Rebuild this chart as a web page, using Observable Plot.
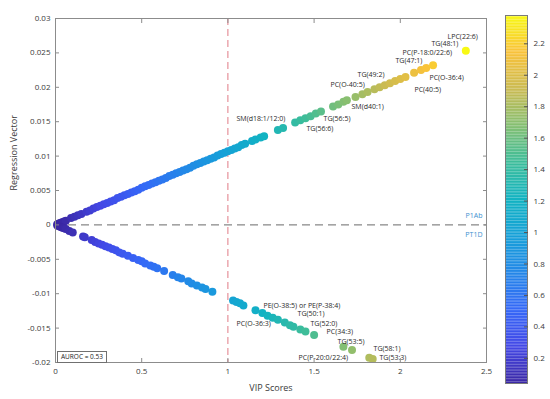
<!DOCTYPE html>
<html><head><meta charset="utf-8">
<script src="https://cdn.jsdelivr.net/npm/d3@7"></script>
<script src="https://cdn.jsdelivr.net/npm/@observablehq/plot@0.6"></script>
<style>
body{margin:0;background:#fff;}
#wrap{position:relative;width:550px;height:399px;overflow:hidden;font-family:"Open Sans",sans-serif;}
#wrap > svg, #wrap > div{position:absolute;top:0;}
#auroc{left:57px;top:351px !important;height:10px;padding:0 3px;border:1px solid #707070;background:#fff;font-size:6.5px;line-height:10px;color:#222;}
</style></head><body><div id="wrap"></div>
<script>
// ---- data ----
const upperVIP = [0.01,0.02,0.03,0.04,0.05,0.06,0.09,0.11,0.13,0.15,0.18,0.2,0.22,0.24,0.26,0.28,0.3,0.32,0.34,0.36,0.38,0.4,0.42,0.44,0.46,0.48,0.5,0.52,0.54,0.56,0.58,0.6,0.62,0.64,0.66,0.68,0.7,0.72,0.74,0.76,0.78,0.8,0.82,0.84,0.86,0.88,0.9,0.92,0.94,0.96,0.98,1.0,1.02,1.04,1.06,1.08,1.1,1.14,1.16,1.19,1.21,1.29,1.32,1.39,1.42,1.45,1.48,1.51,1.54,1.61,1.64,1.67,1.69,1.74,1.78,1.81,1.85,1.88,1.91,1.94,1.97,2.0,2.03,2.08,2.12,2.15,2.19,2.38];
const upperReg = [0.0001,0.0002,0.0003,0.0004,0.0005,0.0006,0.001,0.0012,0.0014,0.0016,0.0019,0.0021,0.0024,0.0026,0.0028,0.003,0.0032,0.0034,0.0036,0.0039,0.0041,0.0043,0.0045,0.0047,0.0049,0.0051,0.0054,0.0056,0.0058,0.006,0.0062,0.0064,0.0066,0.0068,0.0071,0.0073,0.0075,0.0077,0.0079,0.0081,0.0083,0.0086,0.0088,0.009,0.0092,0.0094,0.0096,0.0098,0.0101,0.0103,0.0105,0.0107,0.0109,0.0111,0.0113,0.0116,0.0118,0.0122,0.0124,0.0127,0.0129,0.0138,0.0141,0.0149,0.0152,0.0155,0.0158,0.0162,0.0165,0.0172,0.0175,0.0179,0.0181,0.0186,0.019,0.0193,0.0197,0.02,0.0203,0.0206,0.0209,0.0212,0.0215,0.0221,0.0225,0.0228,0.0232,0.0253];
const lowerVIP = [0.01,0.02,0.03,0.04,0.05,0.06,0.08,0.1,0.16,0.17,0.21,0.23,0.25,0.27,0.29,0.31,0.33,0.35,0.37,0.39,0.42,0.45,0.48,0.5,0.52,0.55,0.57,0.59,0.63,0.68,0.71,0.73,0.77,0.79,0.82,0.85,0.87,0.91,1.03,1.05,1.07,1.09,1.16,1.2,1.23,1.26,1.29,1.33,1.36,1.38,1.42,1.45,1.5,1.67,1.72,1.82,1.84];
const lowerReg = [-0.0001,-0.0002,-0.0003,-0.0004,-0.0005,-0.0006,-0.0009,-0.0011,-0.0017,-0.0018,-0.0022,-0.0025,-0.0027,-0.0029,-0.0031,-0.0033,-0.0035,-0.0037,-0.004,-0.0042,-0.0045,-0.0048,-0.0051,-0.0053,-0.0056,-0.0059,-0.0061,-0.0063,-0.0067,-0.0073,-0.0076,-0.0078,-0.0082,-0.0085,-0.0088,-0.0091,-0.0093,-0.0097,-0.011,-0.0112,-0.0114,-0.0117,-0.0124,-0.0128,-0.0132,-0.0135,-0.0138,-0.0142,-0.0146,-0.0148,-0.0152,-0.0155,-0.016,-0.0177,-0.0182,-0.0193,-0.0195];
const labelText = ["LPC(22:6)","TG(48:1)","PC(P-18:0/22:6)","TG(47:1)","PC(O-36:4)","PC(40:5)","TG(49:2)","PC(O-40:5)","SM(d40:1)","SM(d18:1/12:0)","TG(56:5)","TG(56:6)","PE(O-38:5) or PE(P-38:4)","PC(O-36:3)","TG(50:1)","TG(52:0)","PC(34:3)","TG(53:5)","TG(58:1)","PC(P-20:0/22:4)","TG(53:3)"];
const labelX = [2.274,2.181,2.013,1.972,2.169,2.082,1.752,1.595,1.717,1.05,1.555,1.456,1.206,1.05,1.404,1.479,1.572,1.636,1.845,1.41,1.879];
const labelY = [0.0273,0.0263,0.025,0.0238,0.0214,0.0196,0.0218,0.0204,0.0172,0.0154,0.0154,0.014,-0.0118,-0.0144,-0.0129,-0.0143,-0.0156,-0.017,-0.018,-0.0193,-0.0193];
const xTicks = [0,0.5,1,1.5,2,2.5];
const yTicks = [-0.02,-0.015,-0.01,-0.005,0,0.005,0.01,0.015,0.02,0.025,0.03];
const colorTicks = [0.2,0.4,0.6,0.8,1,1.2,1.4,1.6,1.8,2,2.2];
const colorDomain = [0.04,2.38];
const vipThreshold = 1;
const classLabels = ["P1Ab","PT1D"];
const aurocText = "AUROC = 0.53";
const xTitle = "VIP Scores";
const yTitle = "Regression Vector";
const parulaStops = ["#3b28a4","#4348e6","#3568f7","#2487e8","#16a0d8","#12b3c2","#3dbd9a","#85bf72","#cbbb52","#f9c23a","#f8f914"];

// ---- build ----
const points = upperVIP.map((v,i)=>({vip:v, reg:upperReg[i]}))
  .concat(lowerVIP.map((v,i)=>({vip:v, reg:lowerReg[i]})));
const labels = labelText.map((t,i)=>({t, x:labelX[i], y:labelY[i]}));
const parula = d3.piecewise(d3.interpolateRgb, parulaStops);
const colorOpts = {type:"linear", domain:colorDomain, interpolate:parula, clamp:true};
const axisCol = "#8c8c8c";
const fmt = d => String(+d.toFixed(3));

const main = Plot.plot({
  width:550, height:399, marginLeft:55, marginRight:64, marginTop:18, marginBottom:37,
  style:{fontFamily:"Open Sans", fontSize:"8px", color:"#3a3a3a", background:"transparent"},
  x:{domain:[0,2.5]}, y:{domain:[-0.02,0.03]},
  color:colorOpts,
  marks:[
    Plot.ruleY([0],{stroke:"#6a6a6a", strokeDasharray:"8,5"}),
    Plot.ruleX([vipThreshold],{stroke:"#e07b86", strokeDasharray:"7,4"}),
    Plot.dot(points,{x:"vip", y:"reg", fill:"vip", r:4}),
    Plot.text(labels,{x:"x", y:"y", text:"t", textAnchor:"start", lineAnchor:"middle", fontSize:7, fill:"#2a2a2a"}),
    Plot.text([classLabels[0]],{frameAnchor:"right", y:[0], dx:-4, dy:-9, textAnchor:"end", fontSize:7, fill:"#3d90cf"}),
    Plot.text([classLabels[1]],{frameAnchor:"right", y:[0], dx:-4, dy:10, textAnchor:"end", fontSize:7, fill:"#3d90cf"}),
    Plot.frame({stroke:axisCol}),
    Plot.axisX({ticks:xTicks, tickSize:-4, tickPadding:10, stroke:axisCol, label:null, tickFormat:fmt}),
    Plot.axisX({anchor:"top", ticks:xTicks, tickSize:-4, stroke:axisCol, label:null, tickFormat:()=>""}),
    Plot.axisY({ticks:yTicks, tickSize:-4, tickPadding:9, stroke:axisCol, label:null, tickFormat:fmt}),
    Plot.axisY({anchor:"right", ticks:yTicks, tickSize:-4, stroke:axisCol, label:null, tickFormat:()=>""}),
    Plot.text([xTitle],{frameAnchor:"bottom", dy:28, fontSize:9, fill:"#3a3a3a"}),
    Plot.text([yTitle],{frameAnchor:"left", dx:-41, rotate:-90, fontSize:9, fill:"#3a3a3a"})
  ]
});
main.style.left = "0px";
document.getElementById("wrap").appendChild(main);

const nSlices = 240;
const slices = d3.range(nSlices).map(i => {
  const a = colorDomain[0] + (colorDomain[1]-colorDomain[0])*i/nSlices;
  const b = colorDomain[0] + (colorDomain[1]-colorDomain[0])*(i+1)/nSlices;
  return {y1:a, y2:b, v:(a+b)/2};
});
const bar = Plot.plot({
  width:45, height:399, marginLeft:0, marginRight:23, marginTop:15, marginBottom:16,
  style:{fontFamily:"Open Sans", fontSize:"8px", color:"#3a3a3a", background:"transparent"},
  y:{domain:colorDomain}, color:colorOpts,
  marks:[
    Plot.rect(slices,{y1:"y1", y2:"y2", fill:"v", inset:0}),
    Plot.frame({stroke:"#7a7a7a"}),
    Plot.axisY({anchor:"right", ticks:colorTicks, tickSize:-4, tickPadding:10, stroke:"#555", label:null, tickFormat:d=>String(+d.toFixed(1))})
  ]
});
bar.style.left = "505px";
document.getElementById("wrap").appendChild(bar);

const box = document.createElement("div");
box.id = "auroc";
box.textContent = aurocText;
document.getElementById("wrap").appendChild(box);
</script></body></html>
